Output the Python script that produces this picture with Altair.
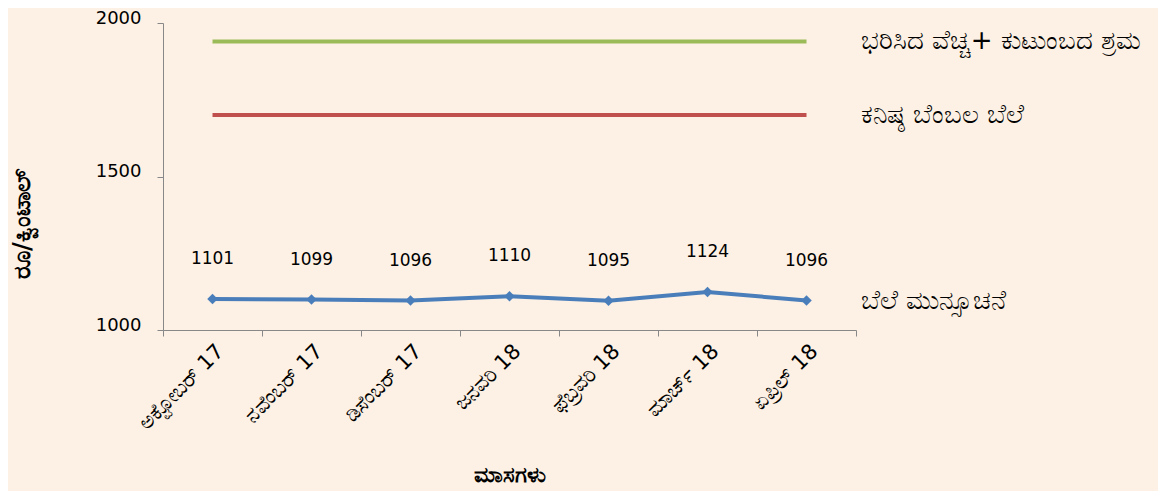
import altair as alt
import pandas as pd

months = ["ಅಕ್ಟೋಬರ್ 17", "ನವೆಂಬರ್ 17", "ಡಿಸೆಂಬರ್ 17", "ಜನವರಿ 18",
          "ಫೆಬ್ರವರಿ 18", "ಮಾರ್ಚ್ 18", "ಏಪ್ರಿಲ್ 18"]
price_forecast = [1101, 1099, 1096, 1110, 1095, 1124, 1096]
msp = [1700, 1700, 1700, 1700, 1700, 1700, 1700]
cost_family_labour = [1940, 1940, 1940, 1940, 1940, 1940, 1940]

s_forecast = "ಬೆಲೆ ಮುನ್ಸೂಚನೆ"
s_msp = "ಕನಿಷ್ಠ ಬೆಂಬಲ ಬೆಲೆ"
s_cost = "ಭರಿಸಿದ ವೆಚ್ಚ+ ಕುಟುಂಬದ ಶ್ರಮ"
series_names = [s_cost, s_msp, s_forecast]
series_colors = ["#9BBB59", "#C0504D", "#4A7EBB"]

y_title = "ರೂ/ಕ್ವಿಂಟಾಲ್"
x_title = "ಮಾಸಗಳು"
y_ticks = [1000, 1500, 2000]

rows = []
for name, vals in [(s_cost, cost_family_labour), (s_msp, msp), (s_forecast, price_forecast)]:
    for m, v in zip(months, vals):
        rows.append({"month": m, "value": v, "series": name})
df = pd.DataFrame(rows)
df_fc = df[df.series == s_forecast]
df_last = df[df.month == months[-1]]

FONT = "DejaVu Sans"

x_enc = alt.X("month:N", sort=months, scale=alt.Scale(paddingInner=0, paddingOuter=0),
              axis=alt.Axis(title=x_title, tickBand="extent",
                            labelAngle=-45, labelAlign="right", labelBaseline="top",
                            labelFontSize=21, labelColor="#000", labelPadding=4,
                            tickColor="#888", domainColor="#888", tickSize=6,
                            titleFontSize=22, titleFontWeight="bold", titleColor="#000",
                            titleY=144, titleBaseline="middle", grid=False))
y_enc = alt.Y("value:Q", scale=alt.Scale(domain=[1000, 2000], nice=False, zero=False),
              axis=alt.Axis(title=y_title, values=y_ticks, grid=False, format="d",
                            labelFontSize=18, labelColor="#000", labelPadding=16,
                            labelOffset=-5,
                            tickColor="#888", domainColor="#888", tickSize=6,
                            titleFontSize=24, titleFontWeight="bold", titleColor="#000",
                            titleX=-141, titleY=200, titleAngle=-90,
                            titleAlign="center", titleBaseline="middle"))
color_enc = alt.Color("series:N", scale=alt.Scale(domain=series_names, range=series_colors),
                      legend=None)

base = alt.Chart(df)
lines = base.mark_line(strokeWidth=4).encode(x=x_enc, y=y_enc, color=color_enc,
                                            detail="series:N")
points = alt.Chart(df_fc).mark_point(shape="diamond", filled=True, size=110, opacity=1).encode(
    x=x_enc, y=y_enc, color=color_enc)
vlabels = alt.Chart(df_fc).mark_text(dy=-40, fontSize=17, font=FONT, color="#000").encode(
    x=x_enc, y=y_enc, text="value:Q")
slabels = alt.Chart(df_last).mark_text(align="left", dx=54, fontSize=26, color="#000",
                                       baseline="middle", font=FONT).encode(
    x=x_enc, y=y_enc, text="series:N")

chart = (lines + points + vlabels + slabels).properties(
    width=693, height=307, background="#FCF1E4",
    autosize=alt.AutoSizeParams(type="none"),
    padding={"left": 155, "top": 15, "right": 302, "bottom": 161},
).configure_view(stroke=None).configure_axis(labelFont=FONT, titleFont=FONT)

chart.save("out.html", embed_options={"renderer": "svg", "actions": False})
